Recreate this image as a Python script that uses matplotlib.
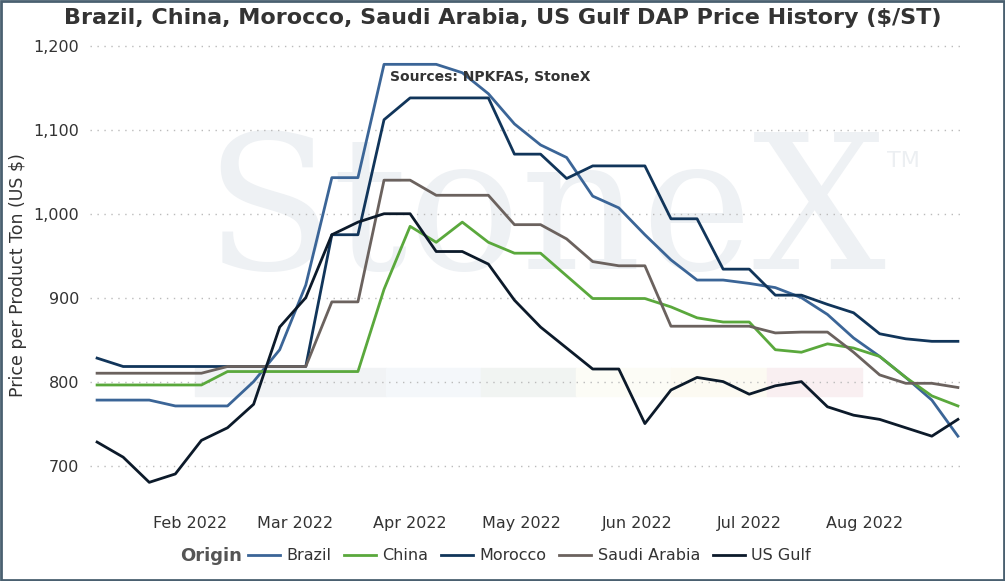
import matplotlib.pyplot as plt
import matplotlib.dates as mdates
import numpy as np
import pandas as pd

dates = pd.date_range("2022-01-07", periods=34, freq="7D")

brazil = [778, 778, 778, 771, 771, 771, 800, 838, 915, 1043, 1043, 1178, 1178, 1178,
          1168, 1143, 1107, 1082, 1067, 1021, 1007, 975, 945, 921, 921, 917, 912, 900,
          880, 852, 830, 805, 778, 735]
china = [796, 796, 796, 796, 796, 812, 812, 812, 812, 812, 812, 910, 985, 966, 990, 966,
         953, 953, 926, 899, 899, 899, 889, 876, 871, 871, 838, 835, 845, 840, 830, 805,
         783, 771]
morocco = [828, 818, 818, 818, 818, 818, 818, 818, 818, 975, 975, 1112, 1138, 1138, 1138,
           1138, 1071, 1071, 1042, 1057, 1057, 1057, 994, 994, 934, 934, 903, 903, 892,
           882, 857, 851, 848, 848]
saudi = [810, 810, 810, 810, 810, 818, 818, 818, 818, 895, 895, 1040, 1040, 1022, 1022,
         1022, 987, 987, 970, 943, 938, 938, 866, 866, 866, 866, 858, 859, 859, 835, 808,
         798, 798, 793]
us_gulf = [728, 710, 680, 690, 730, 745, 773, 865, 900, 975, 990, 1000, 1000, 955, 955,
           940, 897, 865, 840, 815, 815, 750, 790, 805, 800, 785, 795, 800, 770, 760, 755,
           745, 735, 755]

series = [
    ("Brazil", brazil, "#3b6597"),
    ("China", china, "#5aa83c"),
    ("Morocco", morocco, "#11355a"),
    ("Saudi Arabia", saudi, "#6b625e"),
    ("US Gulf", us_gulf, "#0c1a2a"),
]

W, H = 1005, 581
fig = plt.figure(figsize=(W / 100, H / 100), dpi=100)
ax = fig.add_axes([90 / W, 1 - 505 / H, 875 / W, 465 / H])

# watermark
ax.text(0.52, 0.62, "StoneX", transform=ax.transAxes, ha="center", va="center",
        fontsize=135, family="DejaVu Serif", color="#eef1f4", zorder=0)
ax.text(0.93, 0.74, "TM", transform=ax.transAxes, ha="center", va="center",
        fontsize=16, color="#eceff2", zorder=0)
band_cols = ["#f1f3f5", "#f1f3f5", "#f4f7fa", "#f1f4f2", "#fcfcf6", "#fcfaf2", "#f9eff1"]
band_x = np.linspace(195, 862, len(band_cols) + 1)
for i, c in enumerate(band_cols):
    ax.add_patch(plt.Rectangle((band_x[i] / W, 1 - 396 / H), (band_x[i + 1] - band_x[i]) / W,
                               28 / H, transform=fig.transFigure, color=c, zorder=0.5))

for name, vals, col in series:
    ax.plot(dates, vals, color=col, lw=2, label=name, zorder=3)

ax.set_ylim(653, 1207)
ax.set_xlim(dates[0] - pd.Timedelta(days=1.9), dates[-1] + pd.Timedelta(days=1.9))
ax.set_yticks([700, 800, 900, 1000, 1100, 1200])
ax.yaxis.set_major_formatter(plt.FuncFormatter(lambda v, p: f"{v:,.0f}"))
ax.xaxis.set_major_locator(mdates.MonthLocator(bymonth=range(2, 9)))
ax.xaxis.set_major_formatter(mdates.DateFormatter("%b %Y"))
ax.grid(axis="y", linestyle=(0, (1, 4)), color="#bbbbbb", lw=1)
ax.tick_params(length=0, labelsize=11.5, colors="#333333", pad=8)
for s in ax.spines.values():
    s.set_visible(False)
fig.text(18 / W, 1 - 275 / H, "Price per Product Ton (US $)", rotation=90, ha="center",
         va="center", fontsize=12.5, color="#333333")

fig.text(0.5, 1 - 18 / H, "Brazil, China, Morocco, Saudi Arabia, US Gulf DAP Price History ($/ST)",
         ha="center", va="center", fontsize=16, fontweight="bold", color="#333333")
fig.text(390 / W, 1 - 77 / H, "Sources: NPKFAS, StoneX", ha="left", va="center",
         fontsize=10, fontweight="bold", color="#333333")

leg = ax.legend(loc="center left", bbox_to_anchor=(248 / W, 1 - 556 / H),
                bbox_transform=fig.transFigure, ncol=5, frameon=False, fontsize=11.5,
                handlelength=2.0, columnspacing=0.8, handletextpad=0.4,
                labelcolor="#333333", borderaxespad=0, borderpad=0)
fig.text(180 / W, 1 - 556 / H, "Origin", ha="left", va="center", fontsize=13,
         fontweight="bold", color="#555555")

fig.patches.append(plt.Rectangle((0.001, 0.001), 0.998, 0.998, transform=fig.transFigure,
                                 fill=False, edgecolor="#4a6070", lw=2))
fig.savefig("out.png", dpi=100)
